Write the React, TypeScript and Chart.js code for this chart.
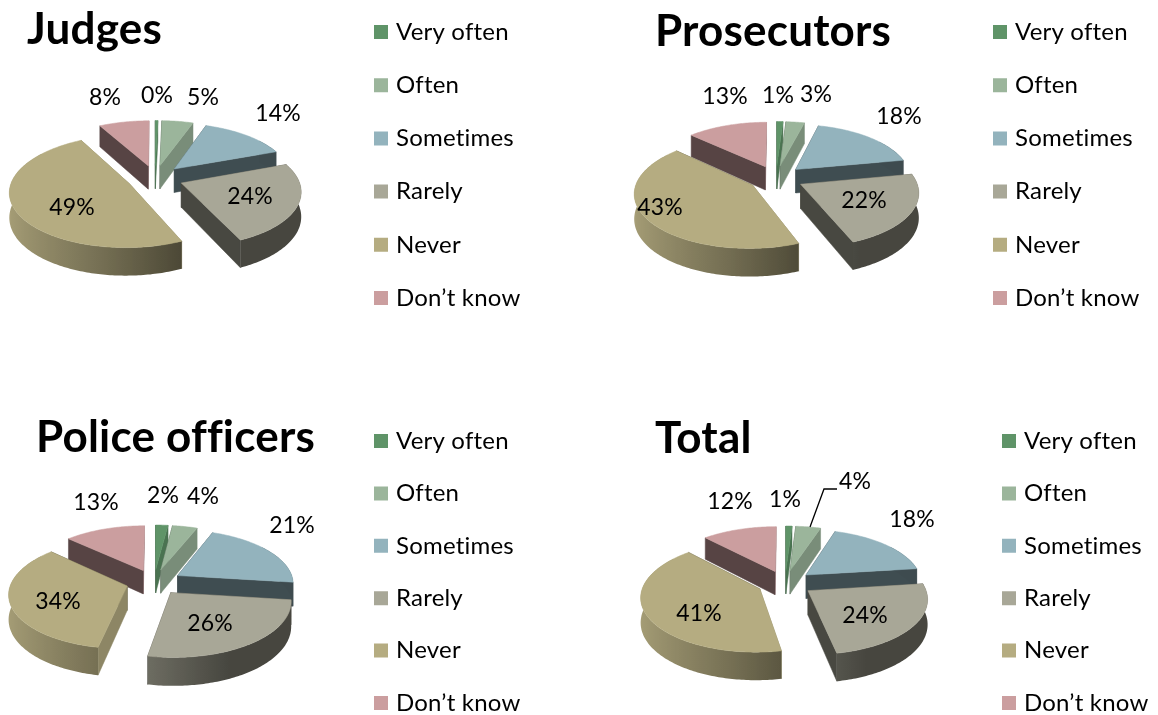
import React, { useEffect, useRef } from "react";
import { Chart, registerables } from "chart.js";

Chart.register(...registerables);

const categories = ["Very often", "Often", "Sometimes", "Rarely", "Never", "Don’t know"];
const sliceColors = ["#5F9468", "#9BB59B", "#93B3BD", "#A8A797", "#B5AC81", "#CB9E9F"];

const judgesValues = [0.4, 5, 14, 24, 49, 8];
const prosecutorsValues = [1, 3, 18, 22, 43, 13];
const policeValues = [2, 4, 21, 26, 34, 13];
const totalValues = [1, 4, 18, 24, 41, 12];

const FONT = "Lato, Carlito, sans-serif";
const LABEL_SIZE = 23;
const LEGEND_SIZE = 24;
const TITLE_SIZE = 44;
const EXPLODE = 0.24;
const TILT = 0.46;
const PERSPECTIVE = 0.13;
const DEPTH = 24;

type Panel = {
  title: string;
  values: number[];
  left: number;
  top: number;
  width: number;
  height: number;
  cx: number;
  cy: number;
  r: number;
  titleX: number;
  titleY: number;
  legendX: number;
  legendY: number;
  legendGap: number;
  labelOffsets: number[][];
  leader?: number[][];
};

const panels: Panel[] = [
  {
    title: "Judges", values: judgesValues, left: 0, top: 0, width: 579, height: 357,
    cx: 155, cy: 178, r: 117, titleX: 27, titleY: 30, legendX: 374, legendY: 32, legendGap: 53.2,
    labelOffsets: [[2, -82], [48, -80], [123, -64], [95, 19], [-83, 30], [-50, -80]],
  },
  {
    title: "Prosecutors", values: prosecutorsValues, left: 579, top: 0, width: 579, height: 357,
    cx: 197, cy: 178, r: 115, titleX: 76, titleY: 32, legendX: 414, legendY: 32, legendGap: 53.2,
    labelOffsets: [[2, -82], [40, -83], [123, -61], [88, 23], [-116, 30], [-51, -81]],
  },
  {
    title: "Police officers", values: policeValues, left: 0, top: 357, width: 579, height: 358,
    cx: 154, cy: 225, r: 116, titleX: 36, titleY: 81, legendX: 374, legendY: 84, legendGap: 52.4,
    labelOffsets: [[9, -86], [49, -85], [138, -56], [56, 42], [-96, 20], [-58, -79]],
  },
  {
    title: "Total", values: totalValues, left: 579, top: 357, width: 579, height: 358,
    cx: 206, cy: 226, r: 116, titleX: 76, titleY: 82, legendX: 423, legendY: 84, legendGap: 52.4,
    labelOffsets: [[0, -83], [70, -101], [127, -63], [80, 33], [-86, 31], [-55, -81]],
    leader: [[25, -56], [39, -94], [52, -94]],
  },
];

function shade(hex: string, f: number): string {
  const n = parseInt(hex.slice(1), 16);
  const c = (v: number) => Math.round(v * f);
  return `rgb(${c((n >> 16) & 255)},${c((n >> 8) & 255)},${c(n & 255)})`;
}

// Rim brightness as a function of how far left (-1) or right (+1) the rim point faces.
function rimShade(u: number): number {
  if (u <= -0.19) return 0.65 + ((-0.19 - u) / 0.81) * 0.27;
  return Math.max(0.42, 0.65 - ((u + 0.19) / 0.6) * 0.23);
}

function wallShade(normalDeg: number): number {
  const d = ((normalDeg % 360) + 360) % 360;
  return d >= 60 && d <= 130 ? 0.78 : 0.43;
}

const pie3d = {
  id: "pie3d",
  beforeDraw(chart: any) {
    chart.ctx.letterSpacing = "0.2px";
  },
  afterLayout(chart: any, _a: any, opts: any) {
    const p: Panel = opts.panel;
    chart.chartArea = {
      left: p.cx - p.r, right: p.cx + p.r, top: p.cy - p.r, bottom: p.cy + p.r,
      width: p.r * 2, height: p.r * 2,
    };
    const lh = TITLE_SIZE * 1.2;
    const t = chart.titleBlock;
    t.left = p.titleX; t.right = p.titleX + 500; t.top = p.titleY - lh / 2; t.bottom = t.top + lh;
    const l = chart.legend;
    const padding = l.options.labels.padding;
    l.left = p.legendX + 4 - padding;
    l.top = p.legendY - LEGEND_SIZE / 2 - padding;
    l.right = p.width + 200;
    l.bottom = p.height + 200;
  },
  beforeDatasetsDraw(chart: any, _a: any, opts: any) {
    const p: Panel = opts.panel;
    const ctx: CanvasRenderingContext2D = chart.ctx;
    const arcs: any[] = chart.getDatasetMeta(0).data;
    const first = arcs[0].getProps(["x", "y", "outerRadius"]);
    const { x: cx, y: cy, outerRadius: R } = first;
    const items = arcs.map((arc: any, i: number) => {
      const a0 = arc.startAngle + Math.PI / 2;
      const a1 = arc.endAngle + Math.PI / 2;
      return { i, a0, a1, mid: (a0 + a1) / 2, color: arc.options.backgroundColor as string };
    });
    const order = [...items].sort((a, b) => -Math.cos(a.mid) - -Math.cos(b.mid));
    const step = Math.PI / 180;
    for (const s of order) {
      const proj = (t: number, r: number, z: number) => {
        const u = Math.sin(s.mid) * EXPLODE + r * Math.sin(t);
        const v = -Math.cos(s.mid) * EXPLODE - r * Math.cos(t);
        const k = 1 / (1 - PERSPECTIVE * v);
        return [cx + R * u * k, cy + R * TILT * v * k + z * k];
      };
      const poly = (pts: number[][], fill: any, stroke = true) => {
        ctx.beginPath();
        pts.forEach((q, j) => (j ? ctx.lineTo(q[0], q[1]) : ctx.moveTo(q[0], q[1])));
        ctx.closePath();
        ctx.fillStyle = fill;
        ctx.fill();
        if (stroke) {
          ctx.strokeStyle = fill;
          ctx.lineWidth = 0.5;
          ctx.stroke();
        }
      };
      const walls = [
        { t: s.a0, n: (s.a0 * 180) / Math.PI - 90 },
        { t: s.a1, n: (s.a1 * 180) / Math.PI + 90 },
      ].sort((a, b) => -Math.cos(a.t) - -Math.cos(b.t));
      for (const w of walls) {
        poly([proj(w.t, 0, 0), proj(w.t, 1, 0), proj(w.t, 1, DEPTH), proj(w.t, 0, DEPTH)], shade(s.color, wallShade(w.n)));
      }
      // outer rim: one polygon with a horizontal gradient that follows the surface normal
      const lo = Math.max(s.a0, Math.PI * 0.3);
      const hi = Math.min(s.a1, Math.PI * 1.7);
      if (hi > lo) {
        const ts: number[] = [];
        for (let t = lo; t < hi; t += step) ts.push(t);
        ts.push(hi);
        const upper = ts.map((t) => proj(t, 1, 0));
        const lower = ts.map((t) => proj(t, 1, DEPTH)).reverse();
        const xs = upper.map((q) => q[0]);
        const xMin = Math.min(...xs);
        const xMax = Math.max(xMin + 1, ...xs);
        const grad = ctx.createLinearGradient(xMin, 0, xMax, 0);
        const lower_u = Math.sin(Math.min(hi, Math.PI * 1.5));
        const upper_u = Math.sin(Math.max(lo, Math.PI * 0.5));
        grad.addColorStop(0, shade(s.color, rimShade(lower_u)));
        grad.addColorStop(1, shade(s.color, rimShade(upper_u)));
        const stops = ts
          .map((t, j) => ({ t, x: xs[j] }))
          .filter((o) => o.t >= Math.PI * 0.5 && o.t <= Math.PI * 1.5)
          .reverse();
        for (const o of stops) {
          const pos = (o.x - xMin) / (xMax - xMin);
          grad.addColorStop(Math.min(1, Math.max(0, pos)), shade(s.color, rimShade(Math.sin(o.t))));
        }
        poly([...upper, ...lower], grad, false);
      }
      const top: number[][] = [proj(s.a0, 0, 0)];
      for (let t = s.a0; t < s.a1; t += step) top.push(proj(t, 1, 0));
      top.push(proj(s.a1, 1, 0));
      poly(top, s.color);
    }
    ctx.save();
    ctx.font = `${LABEL_SIZE}px ${FONT}`;
    ctx.fillStyle = "#000";
    ctx.textAlign = "center";
    ctx.textBaseline = "middle";
    p.values.forEach((v, i) => {
      const o = p.labelOffsets[i];
      ctx.fillText(`${Math.round(v)}%`, cx + o[0], cy + o[1]);
    });
    if (p.leader) {
      ctx.beginPath();
      p.leader.forEach((q, j) => (j ? ctx.lineTo(cx + q[0], cy + q[1]) : ctx.moveTo(cx + q[0], cy + q[1])));
      ctx.strokeStyle = "#000";
      ctx.lineWidth = 1.3;
      ctx.stroke();
    }
    ctx.restore();
    return false;
  },
};

function PieCanvas({ panel }: { panel: Panel }) {
  const ref = useRef<HTMLCanvasElement>(null);
  useEffect(() => {
    const baseLabels = (Chart as any).overrides.pie.plugins.legend.labels.generateLabels;
    const chart = new Chart(ref.current!, {
      type: "pie",
      data: {
        labels: categories,
        datasets: [{ data: panel.values, backgroundColor: sliceColors, borderWidth: 0 }],
      },
      plugins: [pie3d as any],
      options: {
        responsive: false,
        animation: false,
        plugins: {
          tooltip: { enabled: false },
          title: {
            display: true,
            text: panel.title,
            align: "start",
            color: "#000",
            padding: 0,
            font: { family: FONT, size: TITLE_SIZE, weight: "bold", lineHeight: 1.2 },
          },
          legend: {
            display: true,
            position: "right",
            align: "start",
            labels: {
              color: "#000",
              font: { family: FONT, size: LEGEND_SIZE },
              boxWidth: 6,
              boxHeight: 6,
              padding: panel.legendGap - LEGEND_SIZE,
              generateLabels: (c: any) =>
                baseLabels(c).map((it: any) => ({ ...it, strokeStyle: it.fillStyle, lineWidth: 8 })),
            },
          },
          pie3d: { panel },
        } as any,
      },
    });
    return () => chart.destroy();
  }, [panel]);
  return (
    <canvas
      ref={ref}
      width={panel.width}
      height={panel.height}
      style={{ position: "absolute", left: panel.left, top: panel.top, width: panel.width, height: panel.height, display: "block" }}
    />
  );
}

export default function App() {
  return (
    <div style={{ position: "fixed", left: 0, top: 0, width: 1158, height: 715, background: "#fff", overflow: "hidden" }}>
      {panels.map((p) => (
        <PieCanvas key={p.title} panel={p} />
      ))}
    </div>
  );
}
